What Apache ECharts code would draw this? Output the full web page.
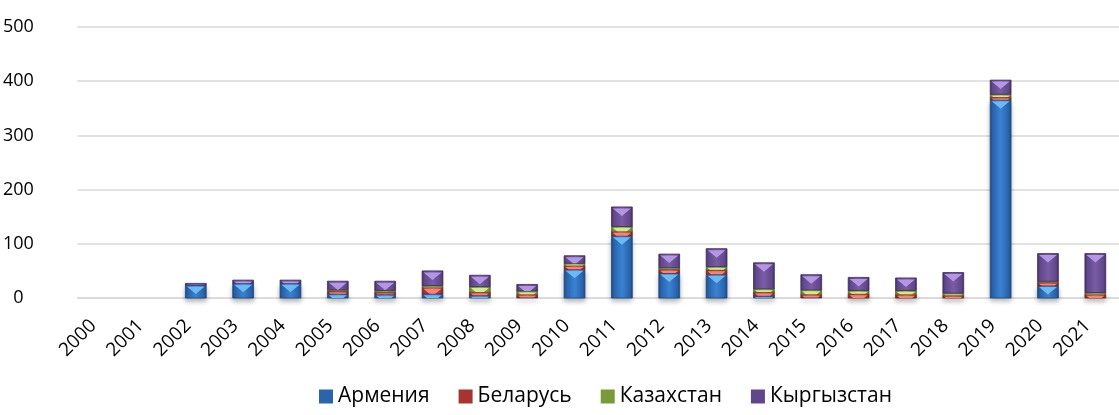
<!DOCTYPE html>
<html>
<head>
<meta charset="utf-8">
<script src="https://cdn.jsdelivr.net/npm/echarts@6/dist/echarts.min.js"></script>
<style>
  html, body { margin: 0; padding: 0; background: #fff; }
  #chart { width: 1119px; height: 415px; }
</style>
</head>
<body>
<div id="chart"></div>
<script>
// годы
const years = ['2000', '2001', '2002', '2003', '2004', '2005', '2006', '2007', '2008', '2009', '2010',
  '2011', '2012', '2013', '2014', '2015', '2016', '2017', '2018', '2019', '2020', '2021']

// значения по странам (стек)
const armenia    = [0, 0, 24, 27, 27, 8, 7, 8, 5, 1, 53, 115, 46, 44, 4, 1, 0, 0, 0, 366, 23, 0]
const belarus    = [0, 0, 0, 0, 0, 5, 4, 12, 6, 6, 7, 8, 7, 8, 7, 6, 8, 7, 5, 5, 6, 7]
const kazakhstan = [0, 0, 0, 0, 0, 2, 3, 3, 10, 6, 4, 9, 3, 6, 6, 8, 6, 7, 4, 5, 2, 3]
const kyrgyzstan = [0, 0, 3, 6, 6, 16, 17, 27, 21, 12, 14, 36, 25, 33, 48, 28, 24, 23, 38, 26, 51, 72]

const seriesNames = ['Армения', 'Беларусь', 'Казахстан', 'Кыргызстан']
const seriesValues = [armenia, belarus, kazakhstan, kyrgyzstan]

const yTicks = { min: 0, max: 500, interval: 100 }

// цвета с эффектом рельефа
const palette = [
  { edge: '#1d4a85', mid: '#3a82d2', side: '#2a64ab', light: '#6cbaf3' },
  { edge: '#7e1f1c', mid: '#d8504b', side: '#a83430', light: '#f4837e' },
  { edge: '#56702a', mid: '#9dbf4d', side: '#7a9a38', light: '#d2ea8e' },
  { edge: '#3f2c62', mid: '#7a5ca6', side: '#60468a', light: '#b496e4' }
]

// накопленные основания для стека
const cum = years.map(() => 0)
const stackedData = seriesValues.map(vals => vals.map((v, i) => {
  const base = cum[i]
  cum[i] += v
  return [i, base, base + v]
}))

function renderItem(params, api) {
  const i = api.value(0)
  const base = api.value(1)
  const top = api.value(2)
  if (top - base <= 0) return
  const c = palette[params.seriesIndex]
  const p0 = api.coord([i, top])
  const p1 = api.coord([i, base])
  const w = api.size([1, 0])[0] * 0.44
  const x0 = p0[0] - w / 2
  const cx = p0[0]
  const y0 = p0[1]
  const h = p1[1] - p0[1]
  const d = w * 0.36
  const t = Math.min(d, Math.max(h - 1.5, 0))
  const hw = (w / 2 - 1.5) * (1 - t / d)
  const bodyStyle = {
    fill: new echarts.graphic.LinearGradient(0, 0, 1, 0, [
      { offset: 0, color: c.edge },
      { offset: 0.12, color: c.side },
      { offset: 0.5, color: c.mid },
      { offset: 0.88, color: c.side },
      { offset: 1, color: c.edge }
    ]),
    stroke: c.edge,
    lineWidth: 0.8
  }
  // тень под нижним сегментом
  if (base === 0) {
    bodyStyle.shadowColor = 'rgba(0,0,0,0.3)'
    bodyStyle.shadowBlur = 5
    bodyStyle.shadowOffsetY = 3
  }
  return {
    type: 'group',
    children: [
      { type: 'rect', shape: { x: x0, y: y0, width: w, height: h }, style: bodyStyle },
      {
        type: 'polygon',
        shape: {
          points: [[x0 + 1.5, y0 + 1.5], [x0 + w - 1.5, y0 + 1.5], [cx + hw, y0 + 1.5 + t], [cx - hw, y0 + 1.5 + t]]
        },
        style: { fill: c.light }
      }
    ]
  }
}

const chart = echarts.init(document.getElementById('chart'))
chart.setOption({
  animation: false,
  textStyle: { fontFamily: 'Open Sans' },
  legend: {
    data: seriesNames,
    left: 314,
    top: 381,
    itemWidth: 14,
    itemHeight: 14,
    itemGap: 29,
    icon: 'rect',
    textStyle: { fontSize: 21, color: '#000', fontFamily: 'Open Sans' }
  },
  grid: { left: 73, top: 27, width: 1057, height: 271 },
  xAxis: {
    type: 'category',
    data: years,
    axisLine: { lineStyle: { color: '#d9d9d9', width: 1.5 } },
    axisTick: { show: false },
    axisLabel: { rotate: 45, fontSize: 19, color: '#000', margin: 17, padding: [0, 11, 0, 0], interval: 0 }
  },
  yAxis: {
    type: 'value',
    min: yTicks.min,
    max: yTicks.max,
    interval: yTicks.interval,
    axisLine: { show: false },
    axisTick: { show: false },
    splitLine: { lineStyle: { color: '#d9d9d9', width: 1.5 } },
    axisLabel: { fontSize: 18, color: '#000', align: 'center', margin: 59 }
  },
  series: seriesNames.map((name, s) => ({
    name: name,
    type: 'custom',
    renderItem: renderItem,
    itemStyle: { color: palette[s].side },
    encode: { x: 0, y: [1, 2] },
    data: stackedData[s]
  }))
})
window.addEventListener('resize', () => chart.resize())
</script>
</body>
</html>
